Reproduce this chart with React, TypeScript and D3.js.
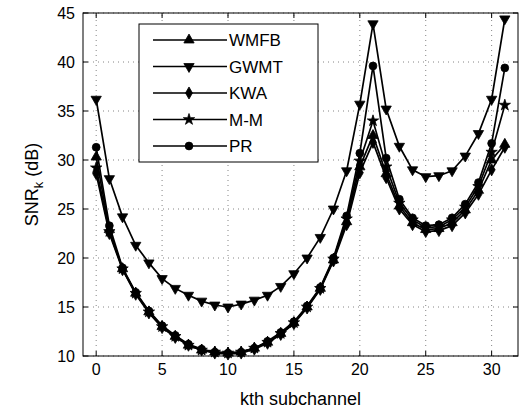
import React from "react";
import * as d3 from "d3";

const subchannels = d3.range(0, 32);

const wmfb = [30.3, 22.9, 18.9, 16.4, 14.5, 13.0, 12.0, 11.1, 10.6, 10.4, 10.3, 10.4, 10.8, 11.4, 12.3, 13.4, 15.0, 16.9, 19.8, 23.7, 29.3, 32.5, 28.6, 25.3, 23.6, 22.9, 23.0, 23.6, 24.9, 26.9, 30.0, 31.6];
const gwmt = [36.2, 28.1, 24.2, 21.3, 19.5, 17.9, 16.9, 16.2, 15.6, 15.2, 15.0, 15.3, 15.7, 16.2, 17.1, 18.4, 20.0, 22.1, 25.0, 28.9, 35.7, 43.9, 35.2, 31.4, 29.0, 28.3, 28.4, 28.9, 30.4, 32.7, 36.2, 44.4];
const kwa = [28.6, 22.5, 18.8, 16.3, 14.4, 12.9, 11.9, 11.1, 10.6, 10.3, 10.2, 10.3, 10.7, 11.3, 12.2, 13.3, 14.9, 16.8, 19.7, 23.4, 28.7, 31.8, 28.2, 25.0, 23.4, 22.7, 22.8, 23.3, 24.6, 26.5, 29.0, 31.3];
const mm = [29.2, 22.7, 18.9, 16.4, 14.5, 13.0, 12.0, 11.1, 10.6, 10.4, 10.3, 10.4, 10.8, 11.4, 12.3, 13.4, 15.0, 16.9, 19.9, 24.0, 29.9, 34.0, 29.3, 25.6, 23.9, 23.1, 23.2, 23.9, 25.2, 27.3, 30.8, 35.6];
const pr = [31.3, 23.3, 19.0, 16.5, 14.6, 13.1, 12.1, 11.2, 10.7, 10.4, 10.3, 10.4, 10.8, 11.5, 12.4, 13.5, 15.1, 17.0, 20.0, 24.3, 30.7, 39.6, 30.2, 26.0, 24.1, 23.3, 23.4, 24.1, 25.5, 27.7, 31.7, 39.4];

const seriesNames = ["WMFB", "GWMT", "KWA", "M-M", "PR"];
const seriesValues = [wmfb, gwmt, kwa, mm, pr];
const seriesMarkers = ["triUp", "triDown", "diamond", "star", "circle"];

const xTicks = [0, 5, 10, 15, 20, 25, 30];
const yTicks = [10, 15, 20, 25, 30, 35, 40, 45];

const W = 520;
const H = 413;
const M = { left: 83, top: 13, right: 2, bottom: 57 };
const FONT = "Liberation Sans, Arial, Helvetica, sans-serif";

function markerPath(kind: string): { d: string; rot: number } {
  switch (kind) {
    case "triUp":
      return { d: d3.symbol(d3.symbolTriangle, 46)()!, rot: 0 };
    case "triDown":
      return { d: d3.symbol(d3.symbolTriangle, 46)()!, rot: 180 };
    case "diamond":
      return { d: d3.symbol(d3.symbolDiamond, 42)()!, rot: 0 };
    case "star":
      return { d: d3.symbol(d3.symbolStar, 40)()!, rot: 0 };
    default:
      return { d: d3.symbol(d3.symbolCircle, 48)()!, rot: 0 };
  }
}

export default function App() {
  const x = d3.scaleLinear().domain([-1, 32]).range([M.left, W - M.right]);
  const y = d3.scaleLinear().domain([10, 45]).range([H - M.bottom, M.top]);
  const line = d3
    .line<number>()
    .x((_, i) => x(subchannels[i]))
    .y((v) => y(v));

  const x0 = M.left, x1 = W - M.right, y0 = H - M.bottom, y1 = M.top;
  const tickLen = 5;

  const legX = 139, legY = 24, legW = 179, legH = 138;
  const rowH = 26.5;

  return (
    <svg width={W} height={H} style={{ position: "absolute", left: 0, top: 0, background: "#fff" }} fontFamily={FONT}>
      <rect x={0} y={0} width={W} height={H} fill="#fff" />
      {/* grid */}
      {xTicks.map((t) => (
        <line key={"gx" + t} x1={x(t)} x2={x(t)} y1={y0} y2={y1} stroke="#000" strokeWidth={0.8} strokeDasharray="1,4" opacity={0.6} />
      ))}
      {yTicks.map((t) => (
        <line key={"gy" + t} x1={x0} x2={x1} y1={y(t)} y2={y(t)} stroke="#000" strokeWidth={0.8} strokeDasharray="1,4" opacity={0.6} />
      ))}
      {/* ticks */}
      {xTicks.map((t) => (
        <g key={"tx" + t}>
          <line x1={x(t)} x2={x(t)} y1={y0} y2={y0 - tickLen} stroke="#000" />
          <line x1={x(t)} x2={x(t)} y1={y1} y2={y1 + tickLen} stroke="#000" />
          <text x={x(t)} y={375} textAnchor="middle" fontSize={16}>{t}</text>
        </g>
      ))}
      {yTicks.map((t) => (
        <g key={"ty" + t}>
          <line x1={x0} x2={x0 + tickLen} y1={y(t)} y2={y(t)} stroke="#000" />
          <line x1={x1} x2={x1 - tickLen} y1={y(t)} y2={y(t)} stroke="#000" />
          <text x={75} y={y(t)} dy="0.36em" textAnchor="end" fontSize={16}>{t}</text>
        </g>
      ))}
      {/* series */}
      {seriesValues.map((vals, si) => {
        const mk = markerPath(seriesMarkers[si]);
        return (
          <g key={"s" + si}>
            <path d={line(vals)!} fill="none" stroke="#000" strokeWidth={1.7} />
            {vals.map((v, i) => (
              <path key={i} d={mk.d} transform={`translate(${x(subchannels[i])},${y(v)}) rotate(${mk.rot})`} fill="#000" stroke="#000" strokeWidth={0.8} />
            ))}
          </g>
        );
      })}
      {/* axes box */}
      <rect x={x0} y={y1} width={x1 - x0} height={y0 - y1} fill="none" stroke="#000" strokeWidth={1} />
      {/* legend */}
      <rect x={legX} y={legY} width={legW} height={legH} fill="#fff" stroke="#000" strokeWidth={1} />
      {seriesNames.map((name, i) => {
        const cy = legY + 16 + i * rowH;
        const mk = markerPath(seriesMarkers[i]);
        return (
          <g key={"l" + name}>
            <line x1={legX + 14} x2={legX + 88} y1={cy} y2={cy} stroke="#000" strokeWidth={1.7} />
            <path d={mk.d} transform={`translate(${legX + 50},${cy}) rotate(${mk.rot})`} fill="#000" stroke="#000" strokeWidth={0.8} />
            <text x={legX + 90} y={cy} dy="0.36em" fontSize={17}>{name}</text>
          </g>
        );
      })}
      {/* axis labels */}
      <text x={(x0 + x1) / 2} y={405} textAnchor="middle" fontSize={18}>kth subchannel</text>
      <text transform={`translate(38, ${(y0 + y1) / 2}) rotate(-90)`} textAnchor="middle" fontSize={18}>
        SNR<tspan fontSize={13} dy={5}>k</tspan><tspan dy={-5}>{"  (dB)"}</tspan>
      </text>
    </svg>
  );
}
